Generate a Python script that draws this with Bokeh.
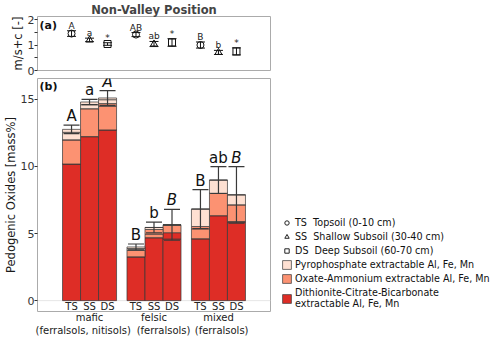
from bokeh.plotting import figure
from bokeh.models import (FactorRange, Range1d, ColumnDataSource, Whisker, TeeHead,
                          Legend, LegendItem, Span, Label, LabelSet, FixedTicker, CategoricalAxis)
from bokeh.layouts import column
from bokeh.core.properties import value, field
from bokeh.embed import file_html
from bokeh.resources import INLINE

# ---------------- data ----------------
NB = "\u00a0"
groups = ["mafic", "felsic", "mixed"]
group_labels = ["mafic\n(ferralsols, nitisols)" + NB * 4,
                "felsic\n" + NB * 6 + "(ferralsols)",
                "mixed\n" + NB * 2 + "(ferralsols)"]
depths = ["TS", "SS", "DS"]
markers = ["circle", "triangle", "square"]

# panel (a): m/s+c ratio
ms_c = [1.45, 1.20, 1.04, 1.41, 1.04, 1.10, 1.00, 0.71, 0.75]
ms_c_err = [0.11, 0.07, 0.05, 0.08, 0.10, 0.15, 0.12, 0.08, 0.14]
letters_a = ["A", "a", "*", "AB", "ab", "*", "B", "b", "*"]

# panel (b): pedogenic oxides [mass%] stacked by extraction
dcb_main = [10.18, 12.22, 12.72, 3.26, 4.69, 4.59, 4.61, 6.33, 5.84]
dcb_minor = [0.00, 0.00, 0.00, 0.00, 0.00, 0.47, 0.00, 0.00, 0.05]
ox_main = [1.80, 2.08, 1.76, 0.50, 0.26, 0.56, 0.74, 1.67, 1.25]
ox_minor = [0.00, 0.00, 0.20, 0.00, 0.35, 0.00, 0.17, 0.00, 0.00]
py_main = [0.56, 0.30, 0.29, 0.12, 0.15, 0.03, 1.30, 0.98, 0.74]
py_minor = [0.22, 0.20, 0.13, 0.12, 0.00, 0.00, 0.00, 0.00, 0.00]
oxides_err = [0.32, 0.20, 0.55, 0.22, 0.40, 1.15, 1.45, 1.00, 2.10]
letters_b = ["A", "a", "A", "B", "b", "B", "B", "ab", "B"]
letters_b_style = ["normal", "normal", "italic"] * 3

legend_labels = ["TS" + NB * 2 + "Topsoil (0-10 cm)",
                 "SS" + NB * 2 + "Shallow Subsoil (30-40 cm)",
                 "DS" + NB * 2 + "Deep Subsoil (60-70 cm)",
                 "Pyrophosphate extractable Al, Fe, Mn",
                 "Oxate-Ammonium extractable Al, Fe, Mn",
                 "Dithionite-Citrate-Bicarbonate\nextractable Al, Fe, Mn"]

# ---------------- styling ----------------
RED, ORANGE, PINK = "#DE2D26", "#FC9272", "#FEE0D2"
FONT = "DejaVu Sans"
DARK = "#333333"
BORDER = "#ababab"

factors = [(g, d) for g in groups for d in depths]
xr = FactorRange(factors=factors, group_padding=0.58, range_padding=1.39,
                 range_padding_units="absolute")

FW = 233
ML = 35
MR = 229


def style_yaxis(p, label):
    ax = p.yaxis[0]
    ax.axis_label = label
    ax.axis_label_text_font = FONT
    ax.axis_label_text_font_size = "11.5px"
    ax.axis_label_text_font_style = "normal"
    ax.axis_label_text_color = "#1a1a1a"
    ax.axis_label_standoff = 0
    ax.major_label_text_font = FONT
    ax.major_label_text_font_size = "11px"
    ax.major_label_text_color = "#333333"
    ax.major_label_standoff = 0
    ax.major_tick_out = 3
    ax.major_tick_in = 0
    ax.major_tick_line_color = DARK
    ax.axis_line_color = None


# ---------------- panel (a) ----------------
src_a = ColumnDataSource(dict(
    x=factors, y=ms_c,
    lo=[v - e for v, e in zip(ms_c, ms_c_err)],
    hi=[v + e for v, e in zip(ms_c, ms_c_err)],
    mk=markers * 3, lab=letters_a))

pa = figure(x_range=xr, y_range=Range1d(0, 2.12), frame_width=FW, frame_height=54,
            min_border_left=ML, min_border_right=MR, min_border_bottom=6, min_border_top=0,
            output_backend="svg", toolbar_location=None, title="Non-Valley Position")
pa.title.align = "center"
pa.title.text_font = FONT
pa.title.text_font_size = "11.5px"
pa.title.text_font_style = "bold"
pa.title.standoff = 0
pa.title.offset = 0
pa.xaxis.visible = False
pa.xgrid.visible = False
pa.ygrid.visible = False
pa.outline_line_color = BORDER
style_yaxis(pa, "m/s+c [-]")
pa.yaxis[0].ticker = FixedTicker(ticks=[0, 1, 2], minor_ticks=[0.5, 1.5])
pa.yaxis[0].minor_tick_out = 3
pa.yaxis[0].minor_tick_in = 0
pa.yaxis[0].minor_tick_line_color = DARK

wa = Whisker(source=src_a, base="x", lower="lo", upper="hi", line_color="#111111", line_width=1,
             upper_head=TeeHead(size=9, line_color="#111111", line_width=1),
             lower_head=TeeHead(size=9, line_color="#111111", line_width=1), level="annotation")
pa.add_layout(wa)
pa.scatter(x="x", y="y", marker="mk", source=src_a, size=7, fill_color=None,
           line_color="#111111", line_width=1)
pa.add_layout(LabelSet(x="x", y="hi", text="lab", source=src_a, text_font=value(FONT),
                       text_font_size="9px", text_align="center", text_baseline="bottom",
                       text_color="#222222"))
pa.add_layout(Label(x=2, y=52, x_units="screen", y_units="screen", text="(a)",
                    text_font=FONT, text_font_size="11px", text_font_style="bold",
                    text_baseline="top", text_color="#111111"))

# ---------------- panel (b) ----------------
stackers = ["dcb_main", "dcb_minor", "ox_main", "ox_minor", "py_main", "py_minor"]
colors = [RED, RED, ORANGE, ORANGE, PINK, PINK]
tot = [sum(v) for v in zip(dcb_main, dcb_minor, ox_main, ox_minor, py_main, py_minor)]
src_b = ColumnDataSource(dict(
    x=factors, dcb_main=dcb_main, dcb_minor=dcb_minor, ox_main=ox_main, ox_minor=ox_minor,
    py_main=py_main, py_minor=py_minor,
    lo=[t - e for t, e in zip(tot, oxides_err)],
    hi=[t + e for t, e in zip(tot, oxides_err)],
    lab=letters_b, style=letters_b_style, dep=depths * 3))

FHB = 233
pb = figure(x_range=xr, y_range=Range1d(-0.81, 16.55), frame_width=FW, frame_height=FHB,
            min_border_left=ML, min_border_right=MR, min_border_top=2, min_border_bottom=0,
            output_backend="svg", toolbar_location=None)
pb.xgrid.visible = False
pb.ygrid.visible = False
pb.outline_line_color = BORDER
pb.add_layout(Span(location=0, dimension="width", line_color="#e6e6e6", line_width=1,
                   level="underlay"))
style_yaxis(pb, "Pedogenic Oxides [mass%]")
pb.yaxis[0].ticker = FixedTicker(ticks=[0, 5, 10, 15])
pb.yaxis[0].minor_tick_line_color = None

bars = pb.vbar_stack(stackers, x="x", width=1.0, source=src_b, fill_color=colors,
                     line_color="#3a3a3a", line_width=0.8, line_alpha=0.9)

wb = Whisker(source=src_b, base="x", lower="lo", upper="hi", line_color="#3a3a3a",
             line_width=1.2,
             upper_head=TeeHead(size=16, line_color="#3a3a3a", line_width=1.2),
             lower_head=TeeHead(size=16, line_color="#3a3a3a", line_width=1.2),
             level="annotation")
pb.add_layout(wb)
pb.add_layout(LabelSet(x="x", y="hi", text="lab", source=src_b, text_font=value(FONT),
                       text_font_size="15px", text_font_style=field("style"),
                       text_align="center", text_baseline="bottom", y_offset=0,
                       text_color="#111111"))
pb.text(x="x", y=-0.42, text="dep", source=src_b, text_font=value(FONT), text_font_size="10px",
        text_align="center", text_baseline="middle", text_color="#222222")
pb.add_layout(Label(x=2, y=FHB - 1, x_units="screen", y_units="screen", text="(b)",
                    text_font=FONT, text_font_size="11px", text_font_style="bold",
                    text_baseline="top", text_color="#111111"))

# group axis below (separate categorical range aligned with the group centres)
pb.xaxis.visible = False
pb.extra_x_ranges = {"grp": FactorRange(factors=group_labels, factor_padding=2.58,
                                        range_padding=2.39, range_padding_units="absolute")}
gax = CategoricalAxis(x_range_name="grp")
gax.axis_line_color = None
gax.major_tick_line_color = None
gax.minor_tick_line_color = None
gax.major_tick_out = 0
gax.major_tick_in = 0
gax.major_label_standoff = 0
gax.major_label_text_font = FONT
gax.major_label_text_font_size = "10px"
gax.major_label_text_color = "#1a1a1a"
gax.major_label_orientation = "horizontal"
pb.add_layout(gax, "below")

# legend (marker entries via proxy renderers with no visible point)
mk_src = ColumnDataSource(dict(x=[factors[0]], y=[float("nan")]))
mk_r = [pb.scatter(x="x", y="y", source=mk_src, marker=m, size=7, fill_color=None,
                   line_color="#222222", line_width=1) for m in markers]
items = [LegendItem(label=legend_labels[0], renderers=[mk_r[0]]),
         LegendItem(label=legend_labels[1], renderers=[mk_r[1]]),
         LegendItem(label=legend_labels[2], renderers=[mk_r[2]]),
         LegendItem(label=legend_labels[3], renderers=[bars[4]]),
         LegendItem(label=legend_labels[4], renderers=[bars[2]]),
         LegendItem(label=legend_labels[5], renderers=[bars[0]])]
legend = Legend(items=items, location=(11, 2), margin=0, padding=0, spacing=3,
                glyph_width=11, glyph_height=11, label_height=11, label_standoff=3,
                label_text_font=FONT, label_text_font_size="9.6px", label_text_color="#111111",
                border_line_color=None, background_fill_alpha=0)
pb.add_layout(legend, "right")

layout = column(pa, pb, spacing=0)
open("out.html", "w").write(file_html(layout, INLINE))
